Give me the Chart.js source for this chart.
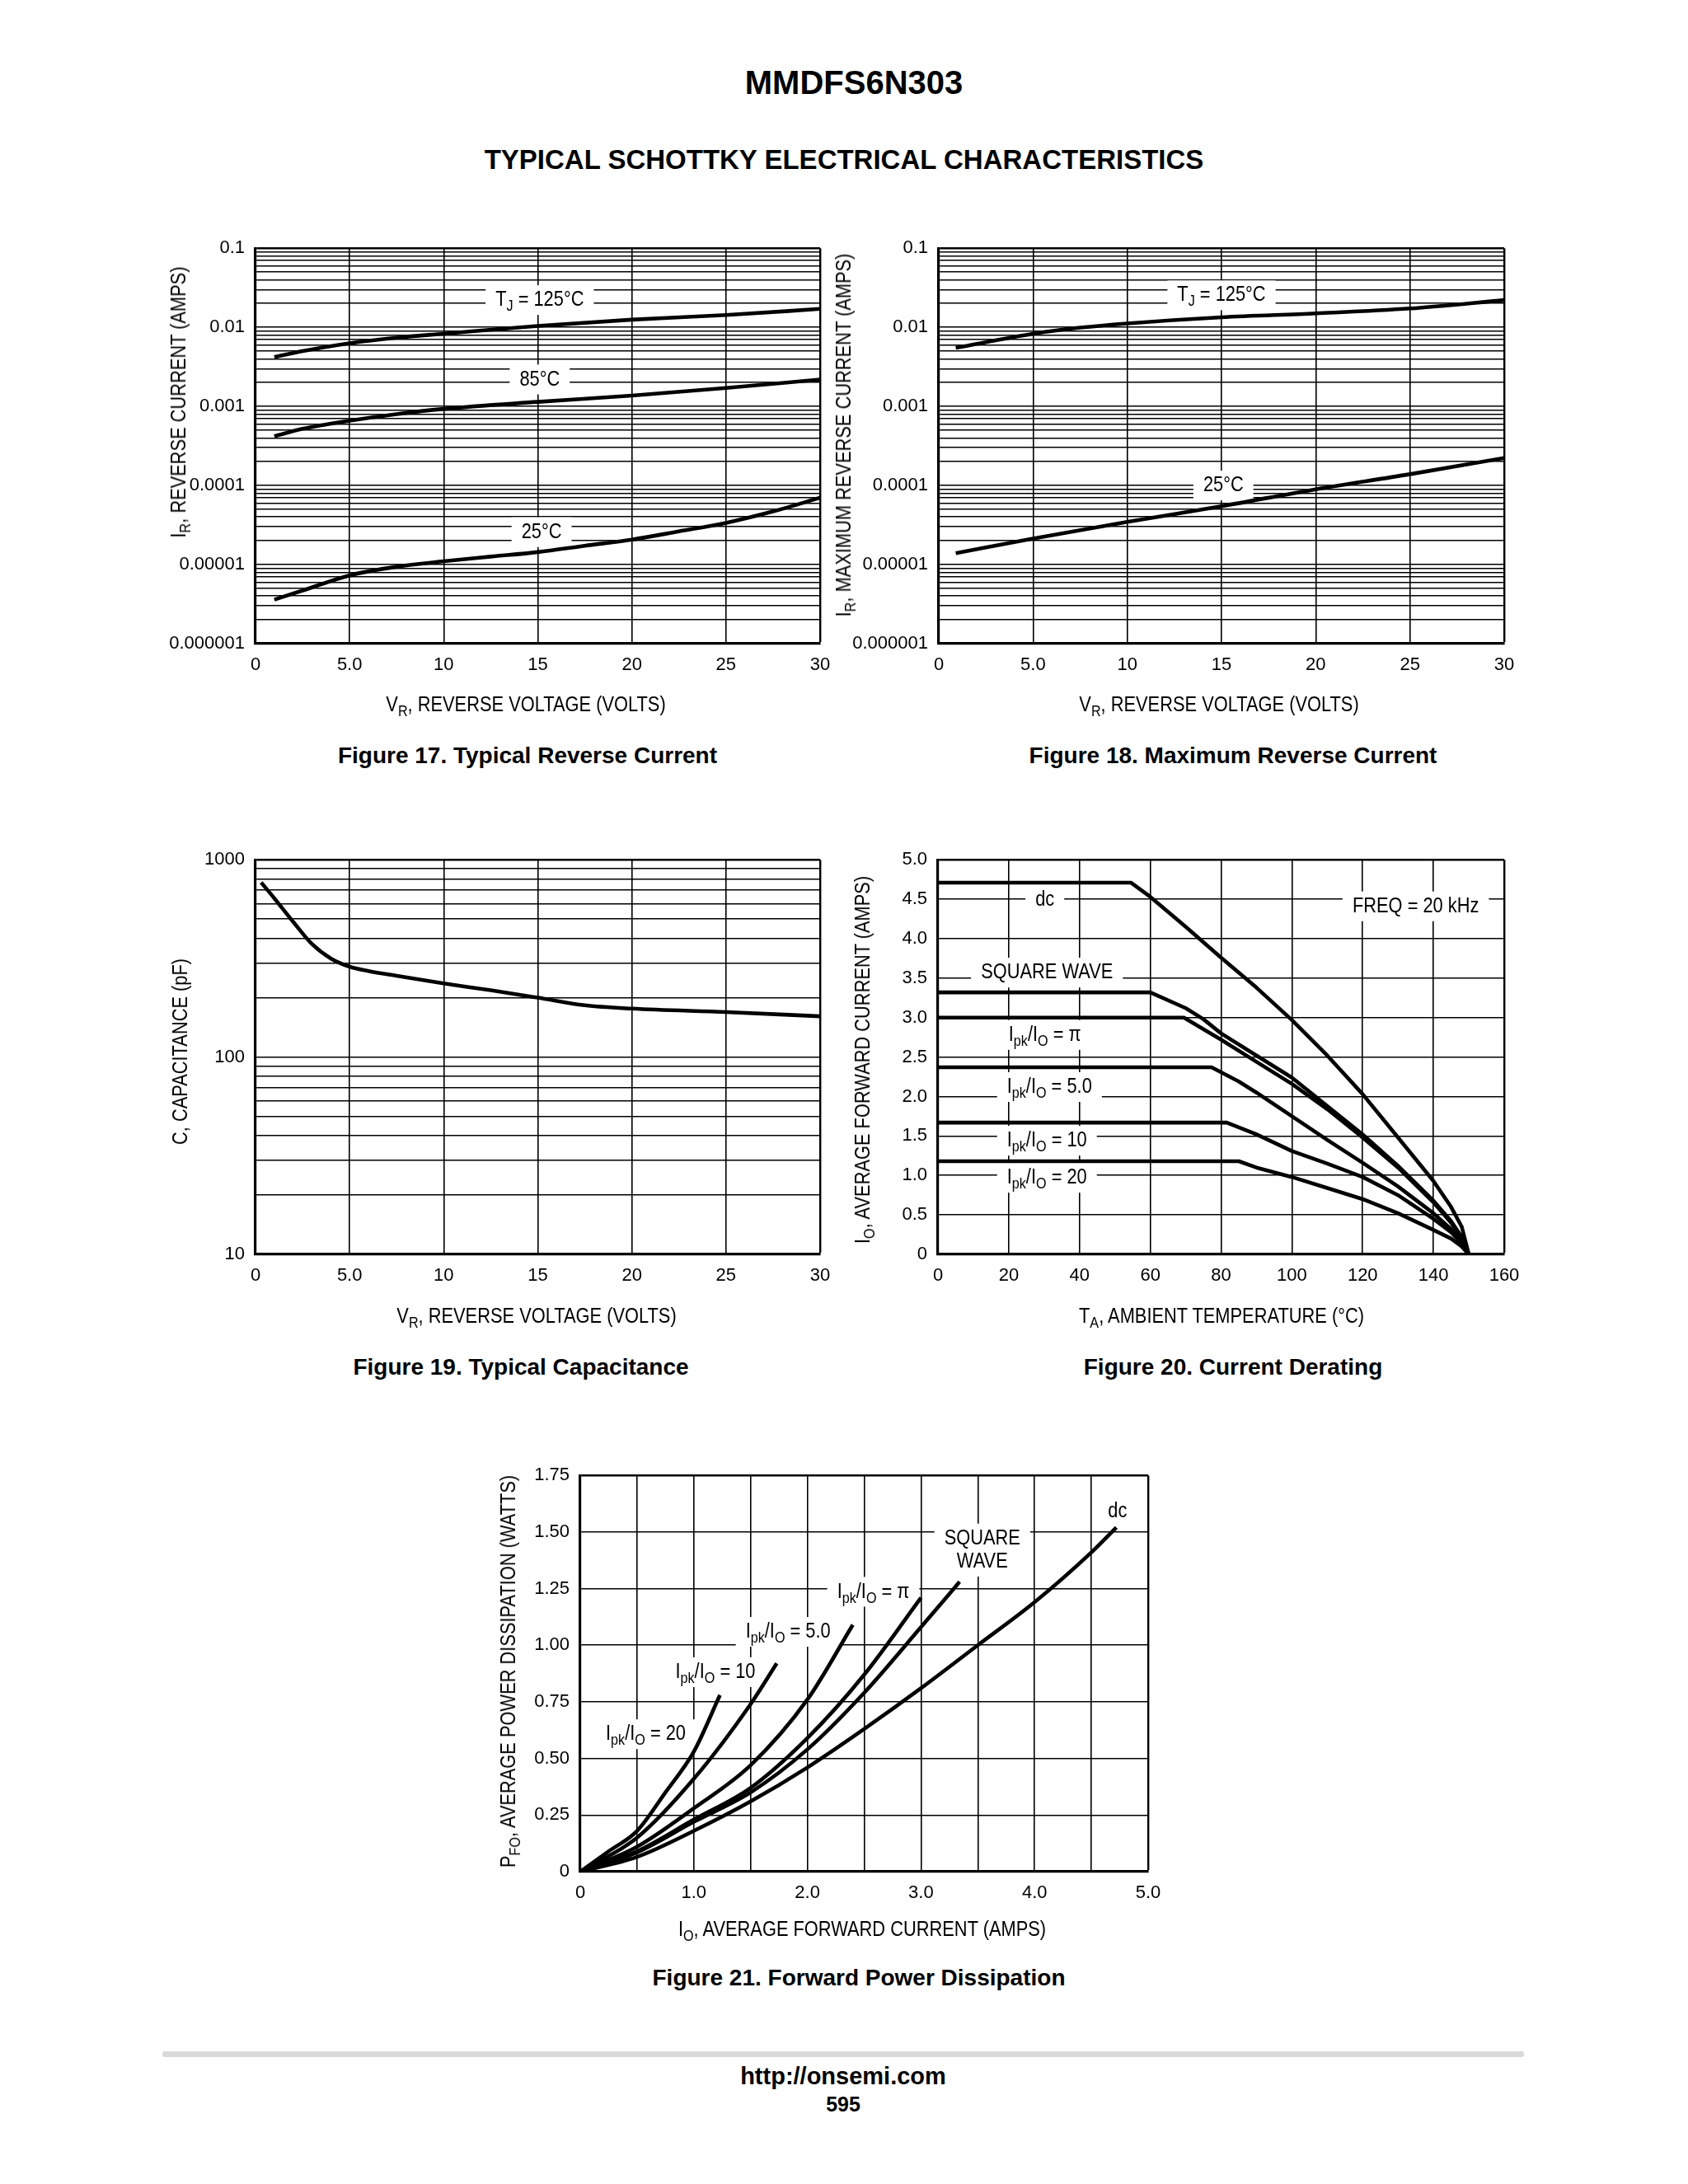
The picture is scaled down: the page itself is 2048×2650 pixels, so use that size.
<!DOCTYPE html>
<html><head><meta charset="utf-8">
<script src="https://cdn.jsdelivr.net/npm/chart.js@4.4.1/dist/chart.umd.min.js"></script>
<style>
html,body{margin:0;padding:0;background:#fff;}
body{width:2048px;height:2650px;position:relative;overflow:hidden;font-family:'Liberation Sans',Arial,sans-serif;color:#000;}
.t{position:absolute;white-space:nowrap;transform:translate(-50%,-50%);line-height:1;}
.b{font-weight:bold;font-family:'Liberation Sans',Arial,sans-serif;}
.ax{font-family:'Liberation Sans',Arial,sans-serif;font-size:26px;transform:translate(-50%,-50%) scaleX(0.84);}
.rot{transform:translate(-50%,-50%) rotate(-90deg) scaleX(0.84);}
sub{font-size:0.74em;vertical-align:-0.32em;line-height:0;}
canvas{position:absolute;}
</style></head>
<body>
<div class="t b" style="left:1036px;top:100px;font-size:40px;">MMDFS6N303</div>
<div class="t b" style="left:1024px;top:193px;font-size:33px;">TYPICAL SCHOTTKY ELECTRICAL CHARACTERISTICS</div>

<canvas id="c17"></canvas>
<canvas id="c18"></canvas>
<canvas id="c19"></canvas>
<canvas id="c20"></canvas>
<canvas id="c21"></canvas>

<div class="t ax rot" style="left:216px;top:488px;">I<sub>R</sub>, REVERSE CURRENT (AMPS)</div>
<div class="t ax" style="left:638px;top:854px;">V<sub>R</sub>, REVERSE VOLTAGE (VOLTS)</div>
<div class="t b" style="left:640px;top:917px;font-size:28px;">Figure 17. Typical Reverse Current</div>

<div class="t ax rot" style="left:1023px;top:528px;">I<sub>R</sub>, MAXIMUM REVERSE CURRENT (AMPS)</div>
<div class="t ax" style="left:1479px;top:854px;">V<sub>R</sub>, REVERSE VOLTAGE (VOLTS)</div>
<div class="t b" style="left:1496px;top:917px;font-size:28px;">Figure 18. Maximum Reverse Current</div>

<div class="t ax rot" style="left:218px;top:1276px;">C, CAPACITANCE (pF)</div>
<div class="t ax" style="left:651px;top:1596px;">V<sub>R</sub>, REVERSE VOLTAGE (VOLTS)</div>
<div class="t b" style="left:632px;top:1659px;font-size:28px;">Figure 19. Typical Capacitance</div>

<div class="t ax rot" style="left:1046px;top:1286px;">I<sub>O</sub>, AVERAGE FORWARD CURRENT (AMPS)</div>
<div class="t ax" style="left:1482px;top:1596px;">T<sub>A</sub>, AMBIENT TEMPERATURE (°C)</div>
<div class="t b" style="left:1496px;top:1659px;font-size:28px;">Figure 20. Current Derating</div>

<div class="t ax rot" style="left:616px;top:2028px;">P<sub>FO</sub>, AVERAGE POWER DISSIPATION (WATTS)</div>
<div class="t ax" style="left:1046px;top:2340px;">I<sub>O</sub>, AVERAGE FORWARD CURRENT (AMPS)</div>
<div class="t b" style="left:1042px;top:2400px;font-size:28px;">Figure 21. Forward Power Dissipation</div>

<div style="position:absolute;left:197px;top:2489px;width:1652px;height:7px;background:#d9d9d9;border-radius:3px;"></div>
<div class="t b" style="left:1023px;top:2519px;font-size:29px;">http://onsemi.com</div>
<div class="t b" style="left:1023px;top:2553px;font-size:25px;">595</div>

<script>
// ---------------- DATA ----------------
// Figure 17 : typical reverse current
const f17_V125 = [1, 2.5, 5, 7.5, 10, 15, 20, 25, 30];
const f17_I125 = [0.0042, 0.0050, 0.0063, 0.0074, 0.0083, 0.0104, 0.0125, 0.0143, 0.0171];
const f17_V85  = [1, 2.5, 5, 7.5, 10, 15, 20, 25, 30];
const f17_I85  = [0.00042, 0.00052, 0.00066, 0.00080, 0.00093, 0.00114, 0.00137, 0.00171, 0.00219];
const f17_V25  = [1, 2.5, 5, 7.5, 10, 12.5, 15, 17.5, 20, 22.5, 25, 27.5, 30];
const f17_I25  = [3.6e-6, 4.7e-6, 7.3e-6, 9.4e-6, 1.1e-5, 1.26e-5, 1.44e-5, 1.73e-5, 2.07e-5, 2.63e-5, 3.37e-5, 4.7e-5, 7.0e-5];

// Figure 18 : maximum reverse current
const f18_V125 = [0.9, 5, 7.5, 10, 15, 20, 25, 30];
const f18_I125 = [0.0055, 0.0083, 0.0099, 0.0112, 0.0134, 0.0150, 0.0173, 0.0221];
const f18_V25  = [0.9, 5, 10, 15, 20, 25, 30];
const f18_I25  = [1.39e-5, 2.13e-5, 3.46e-5, 5.47e-5, 8.96e-5, 1.39e-4, 2.23e-4];

// Figure 19 : typical capacitance
const f19_V = [0.3, 1, 2, 3, 4, 5, 6, 7.5, 10, 12.5, 15, 17.5, 20, 25, 30];
const f19_C = [767, 638, 485, 374, 316, 287, 273, 258, 236, 218, 200, 183, 176, 169, 161];

// Figure 20 : current derating
const f20_Tdc  = [0, 54.5, 60, 70, 80, 90, 100, 110, 120, 130, 140, 145, 148, 150];
const f20_Idc  = [4.71, 4.71, 4.53, 4.15, 3.76, 3.38, 2.97, 2.52, 2.03, 1.48, 0.93, 0.6, 0.35, 0];
const f20_Tsq  = [0, 60, 70, 75, 80, 90, 100, 110, 120, 130, 140, 145, 148, 150];
const f20_Isq  = [3.32, 3.32, 3.12, 2.98, 2.8, 2.52, 2.24, 1.88, 1.52, 1.12, 0.68, 0.42, 0.22, 0];
const f20_Tpi  = [0, 69.5, 80, 90, 100, 110, 120, 130, 140, 145, 148, 150];
const f20_Ipi  = [3.0, 3.0, 2.72, 2.44, 2.16, 1.84, 1.48, 1.1, 0.66, 0.4, 0.2, 0];
const f20_T5   = [0, 77.3, 85, 90, 100, 110, 120, 130, 140, 145, 148, 150];
const f20_I5   = [2.37, 2.37, 2.19, 2.05, 1.75, 1.45, 1.16, 0.86, 0.52, 0.32, 0.16, 0];
const f20_T10  = [0, 81.6, 90, 100, 110, 120, 130, 140, 145, 148, 150];
const f20_I10  = [1.67, 1.67, 1.52, 1.31, 1.15, 0.98, 0.75, 0.45, 0.28, 0.14, 0];
const f20_T20  = [0, 85, 90, 100, 110, 120, 130, 140, 145, 148, 150];
const f20_I20  = [1.18, 1.18, 1.1, 0.98, 0.84, 0.7, 0.52, 0.31, 0.2, 0.1, 0];

// Figure 21 : forward power dissipation
const f21_Idc = [0, 0.5, 1.0, 1.5, 2.0, 2.5, 3.0, 3.5, 4.0, 4.5, 4.72];
const f21_Pdc = [0, 0.065, 0.18, 0.31, 0.46, 0.63, 0.81, 1.0, 1.19, 1.41, 1.52];
const f21_Isq = [0, 0.5, 1.0, 1.5, 2.0, 2.5, 3.0, 3.34];
const f21_Psq = [0, 0.085, 0.22, 0.35, 0.54, 0.79, 1.08, 1.28];
const f21_Ipi = [0, 0.5, 1.0, 1.5, 2.0, 2.5, 3.0];
const f21_Ppi = [0, 0.09, 0.23, 0.37, 0.59, 0.87, 1.21];
const f21_I5  = [0, 0.5, 1.0, 1.5, 2.0, 2.4];
const f21_P5  = [0, 0.11, 0.28, 0.47, 0.76, 1.09];
const f21_I10 = [0, 0.5, 1.0, 1.5, 1.73];
const f21_P10 = [0, 0.15, 0.41, 0.74, 0.92];
const f21_I20 = [0, 0.25, 0.5, 0.75, 1.0, 1.23];
const f21_P20 = [0, 0.09, 0.18, 0.35, 0.53, 0.78];

// Tick labels
const xLabelsV   = ['0', '5.0', '10', '15', '20', '25', '30'];
const yLabels17  = ['0.000001', '0.00001', '0.0001', '0.001', '0.01', '0.1'];
const yLabels19  = ['10', '100', '1000'];
const xLabels20  = ['0', '20', '40', '60', '80', '100', '120', '140', '160'];
const yLabels20  = ['0', '0.5', '1.0', '1.5', '2.0', '2.5', '3.0', '3.5', '4.0', '4.5', '5.0'];
const xLabels21  = ['0', '', '1.0', '', '2.0', '', '3.0', '', '4.0', '', '5.0'];
const yLabels21  = ['0', '0.25', '0.50', '0.75', '1.00', '1.25', '1.50', '1.75'];

// ---------------- LAYOUT ----------------
const PAD = {L: 120, R: 40, T: 24, B: 60};
const SANS = "'Liberation Sans', Arial, sans-serif";
const TICK_FONT = {family: SANS, size: 22};
const LABEL_SQUEEZE = 0.84;
const GRID_W = 1.6, EDGE_W = 2.4, AXIS_W = 3.2, CURVE_W = 4.6;

function place(id, r) {
  const c = document.getElementById(id);
  const w = r.r - r.l + PAD.L + PAD.R, h = r.b - r.t + PAD.T + PAD.B;
  c.width = w; c.height = h;
  c.style.left = (r.l - PAD.L) + 'px'; c.style.top = (r.t - PAD.T) + 'px';
  c.style.width = w + 'px'; c.style.height = h + 'px';
  return c;
}

function linX(min, max, step, labels) {
  return {
    type: 'linear', position: 'bottom', min, max,
    afterBuildTicks: s => { const t = []; for (let i = 0; min + i * step <= max + 1e-9; i++) t.push({value: +(min + i * step).toFixed(6)}); s.ticks = t; },
    afterFit: s => { s.height = PAD.B; },
    ticks: {autoSkip: false, maxRotation: 0, color: '#000', font: TICK_FONT, padding: 13, callback: (v, i) => labels[i] ?? ''},
    grid: {color: '#000', drawTicks: false, lineWidth: ctx => (ctx.tick && Math.abs(ctx.tick.value - max) < 1e-9) ? EDGE_W : GRID_W},
    border: {color: '#000', width: AXIS_W}
  };
}
function linY(min, max, step, labels) {
  return {
    type: 'linear', position: 'left', min, max,
    afterBuildTicks: s => { const t = []; for (let i = 0; min + i * step <= max + 1e-9; i++) t.push({value: +(min + i * step).toFixed(6)}); s.ticks = t; },
    afterFit: s => { s.width = PAD.L; },
    ticks: {autoSkip: false, color: '#000', font: TICK_FONT, padding: 13, callback: (v, i) => labels[i] ?? ''},
    grid: {color: '#000', drawTicks: false, lineWidth: ctx => (ctx.tick && Math.abs(ctx.tick.value - max) < 1e-9) ? EDGE_W : GRID_W},
    border: {color: '#000', width: AXIS_W}
  };
}
function logY(minE, maxE, labels) {
  const top = parseFloat(Math.pow(10, maxE).toPrecision(6));
  return {
    type: 'logarithmic', position: 'left',
    min: parseFloat(Math.pow(10, minE).toPrecision(6)), max: top,
    afterBuildTicks: s => {
      const t = [];
      for (let e = minE; e < maxE; e++) for (let k = 1; k <= 9; k++) t.push({value: parseFloat((k * Math.pow(10, e)).toPrecision(6))});
      t.push({value: top});
      s.ticks = t;
    },
    afterFit: s => { s.width = PAD.L; },
    ticks: {autoSkip: false, color: '#000', font: TICK_FONT, padding: 13,
      callback: v => { const e = Math.log10(v), r = Math.round(e); return Math.abs(e - r) < 1e-6 ? labels[r - minE] : ''; }},
    grid: {color: '#000', drawTicks: false, lineWidth: ctx => (ctx.tick && Math.abs(ctx.tick.value - top) / top < 1e-6) ? EDGE_W : GRID_W},
    border: {color: '#000', width: AXIS_W}
  };
}

function series(xs, ys, smooth) {
  return {
    data: xs.map((x, i) => ({x, y: ys[i]})),
    borderColor: '#000', backgroundColor: '#000', borderWidth: CURVE_W,
    pointRadius: 0, fill: false, tension: 0,
    cubicInterpolationMode: smooth ? 'monotone' : 'default',
    borderJoinStyle: 'round', borderCapStyle: 'butt'
  };
}

// rich text label: lines = [[ [text, isSub], ... ], ...]
function labelPlugin(items) {
  return {
    id: 'curveLabels',
    beforeDatasetsDraw(chart) {
      const ctx = chart.ctx, xs = chart.scales.x, ys = chart.scales.y;
      const k = LABEL_SQUEEZE;
      ctx.save();
      for (const it of items) {
        const size = it.size || 26, sub = size * 0.74;
        const px = xs.getPixelForValue(it.x), py = ys.getPixelForValue(it.y);
        const lh = size * 1.08;
        const widths = it.lines.map(line => line.reduce((w, [t, s]) => {
          ctx.font = (s ? sub : size) + 'px ' + SANS; return w + ctx.measureText(t).width; }, 0));
        const W = Math.max(...widths) * k, H = lh * it.lines.length;
        if (it.box !== false) {
          const padX = it.padX ?? 12, padY = it.padY ?? 4;
          ctx.fillStyle = '#fff';
          ctx.fillRect(px - W / 2 - padX, py - H / 2 - padY, W + 2 * padX, H + 2 * padY);
        }
        ctx.fillStyle = '#000';
        ctx.textBaseline = 'middle'; ctx.textAlign = 'left';
        it.lines.forEach((line, li) => {
          const y = py - H / 2 + lh * (li + 0.5);
          ctx.save();
          ctx.translate(px - widths[li] * k / 2, 0);
          ctx.scale(k, 1);
          let x = 0;
          for (const [t, s] of line) {
            ctx.font = (s ? sub : size) + 'px ' + SANS;
            ctx.fillText(t, x, s ? y + size * 0.3 : y);
            x += ctx.measureText(t).width;
          }
          ctx.restore();
        });
      }
      ctx.restore();
    }
  };
}

function make(id, rect, scales, datasets, labels) {
  const c = place(id, rect);
  return new Chart(c, {
    type: 'line',
    data: {datasets},
    options: {
      responsive: false, animation: false, devicePixelRatio: 1,
      layout: {padding: {top: PAD.T, right: PAD.R, left: 0, bottom: 0}},
      plugins: {legend: {display: false}, tooltip: {enabled: false}},
      scales
    },
    plugins: [labelPlugin(labels)]
  });
}

const TJ125 = [[['T', false], ['J', true], [' = 125°C', false]]];
const ipk = (rest) => [[['I', false], ['pk', true], ['/I', false], ['O', true], [rest, false]]];

// Figure 17
make('c17', {l: 310, t: 299, r: 995, b: 781},
  {x: linX(0, 30, 5, xLabelsV), y: logY(-6, -1, yLabels17)},
  [series(f17_V125, f17_I125, true), series(f17_V85, f17_I85, true), series(f17_V25, f17_I25, true)],
  [{x: 15.1, y: 0.0221, lines: TJ125},
   {x: 15.1, y: 0.00219, lines: [[['85°C', false]]]},
   {x: 15.2, y: 2.57e-5, lines: [[['25°C', false]]]}]);

// Figure 18
make('c18', {l: 1139, t: 299, r: 1825, b: 781},
  {x: linX(0, 30, 5, xLabelsV), y: logY(-6, -1, yLabels17)},
  [series(f18_V125, f18_I125, true), series(f18_V25, f18_I25, true)],
  [{x: 15.0, y: 0.0254, lines: TJ125},
   {x: 15.1, y: 1.0e-4, lines: [[['25°C', false]]]}]);

// Figure 19
make('c19', {l: 310, t: 1041, r: 995, b: 1522},
  {x: linX(0, 30, 5, xLabelsV), y: logY(1, 3, yLabels19)},
  [series(f19_V, f19_C, true)], []);

// Figure 20
make('c20', {l: 1138, t: 1041, r: 1825, b: 1522},
  {x: linX(0, 160, 20, xLabels20), y: linY(0, 5, 0.5, yLabels20)},
  [series(f20_Tdc, f20_Idc, false), series(f20_Tsq, f20_Isq, false), series(f20_Tpi, f20_Ipi, false),
   series(f20_T5, f20_I5, false), series(f20_T10, f20_I10, false), series(f20_T20, f20_I20, false)],
  [{x: 30.2, y: 4.49, lines: [[['dc', false]]]},
   {x: 135, y: 4.41, lines: [[['FREQ = 20 kHz', false]]]},
   {x: 30.8, y: 3.57, lines: [[['SQUARE WAVE', false]]]},
   {x: 30.2, y: 2.78, lines: ipk(' = π')},
   {x: 31.5, y: 2.12, lines: ipk(' = 5.0')},
   {x: 30.8, y: 1.44, lines: ipk(' = 10')},
   {x: 30.8, y: 0.97, lines: ipk(' = 20')}]);

// Figure 21
make('c21', {l: 704, t: 1788, r: 1393, b: 2271},
  {x: linX(0, 5, 0.5, xLabels21), y: linY(0, 1.75, 0.25, yLabels21)},
  [series(f21_Idc, f21_Pdc, true), series(f21_Isq, f21_Psq, true), series(f21_Ipi, f21_Ppi, true),
   series(f21_I5, f21_P5, true), series(f21_I10, f21_P10, true), series(f21_I20, f21_P20, true)],
  [{x: 4.73, y: 1.59, lines: [[['dc', false]]], box: false},
   {x: 3.54, y: 1.42, lines: [[['SQUARE', false]], [['WAVE', false]]]},
   {x: 2.58, y: 1.236, lines: ipk(' = π')},
   {x: 1.83, y: 1.059, lines: ipk(' = 5.0')},
   {x: 1.19, y: 0.881, lines: ipk(' = 10')},
   {x: 0.577, y: 0.607, lines: ipk(' = 20')}]);
</script>
</body></html>
